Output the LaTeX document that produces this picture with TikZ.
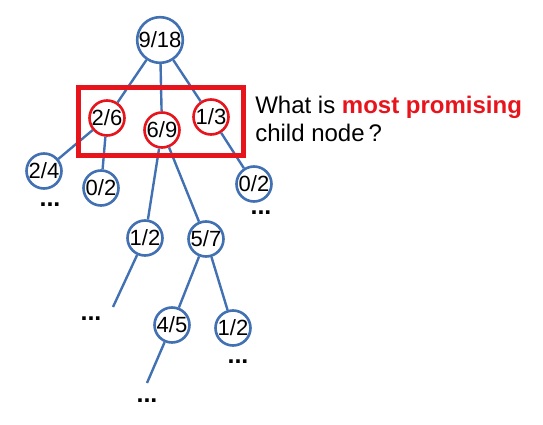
\documentclass[tikz,border=0pt]{standalone}
\usepackage{fontspec}
\setmainfont{Liberation Sans}
\definecolor{treeblue}{RGB}{65,113,178}
\definecolor{hotred}{RGB}{232,20,28}
\begin{document}
\begin{tikzpicture}
        [x=1pt,y=-1pt,every node/.style={draw=treeblue, line width=2.6pt, circle, fill=white, inner sep = 0pt, minimum width = 35pt, font=\fontsize{22}{24}\selectfont}]
      \useasboundingbox (0,0) rectangle (543,425);
      \node (n918) at (160,40) {9/18};
      \node[draw=hotred] (n26) at (107,118) {2/6};
      \node[draw=hotred] (n69) at (162,130) {6/9};
      \node[draw=hotred] (n13) at (211,117) {1/3};
      \node (n24) at (44,171) {2/4};
      \node (n02a) at (101,188) {0/2};
      \node (n02b) at (254,184) {0/2};
      \node (n12a) at (145,238) {1/2};
      \node (n57) at (206,239) {5/7};
      \node (n45) at (172,325) {4/5};
      \node (n12b) at (233,328) {1/2};
      \coordinate (e12) at (113,307);
      \coordinate (e45) at (147,383);

      \foreach \from/\to in {n918/n26, n918/n69, n918/n13, n26/n24, n26/n02a, n13/n02b, n69/n12a, n69/n57, n57/n45, n57/n12b, n12a/e12, n45/e45}
        \draw[treeblue, line width=2.4pt] (\from) -- (\to);

      % continuation dots
      \foreach \x/\y in {50/205, 261/213, 91/319, 238/362, 147/401}
        \node[draw=none, fill=none, rectangle, minimum width=0pt, font=\fontsize{25}{27}\selectfont\bfseries] at (\x,\y) {...};

      \draw[hotred, line width=5pt] (78,88) rectangle (243,155);
      \node[draw=none, fill=none, rectangle, minimum width=0pt, anchor=base west, align=left, font=\fontsize{24}{28}\selectfont] (q) at (254,141)
        {What is {\color{hotred}\bfseries most promising}\\child node\,?};
    \end{tikzpicture}
\end{document}
